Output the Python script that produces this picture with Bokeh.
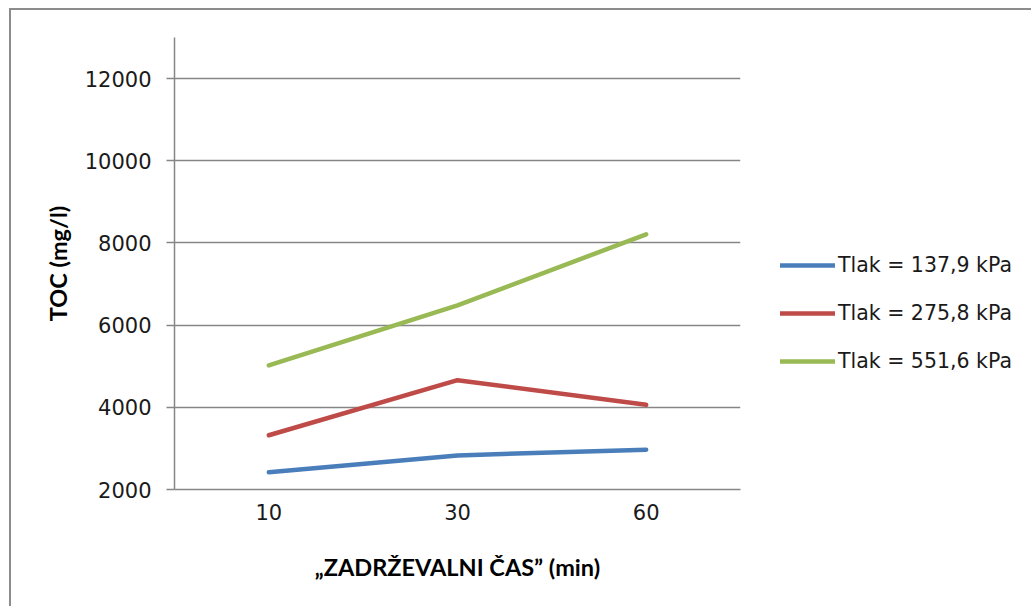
from bokeh.plotting import figure
from bokeh.models import FactorRange, Range1d, FixedTicker, Legend, LegendItem
from bokeh.embed import file_html
from bokeh.resources import INLINE

# Retention time categories (min)
times = ["10", "30", "60"]

# TOC (mg/l) for each pressure level
toc_137_9 = [2420, 2830, 2970]
toc_275_8 = [3320, 4660, 4060]
toc_551_6 = [5020, 6480, 8210]

series_labels = ["Tlak = 137,9 kPa", "Tlak = 275,8 kPa", "Tlak = 551,6 kPa"]
series_colors = ["#4a7ebb", "#be4b48", "#98b954"]

y_ticks = [2000, 4000, 6000, 8000, 10000, 12000]

GRAY = "#868686"
TICK_FONT = "DejaVu Sans"
TITLE_FONT = "Lato"

p = figure(
    x_range=FactorRange(*times, range_padding=0),
    y_range=Range1d(2000, 13000),
    frame_width=566, frame_height=452,
    output_backend="svg", toolbar_location=None,
    min_border_left=163, min_border_right=0,
    min_border_top=27, min_border_bottom=117,
)
p.styles = {
    "margin-left": "9px", "margin-top": "8px",
    "border-left": "2px solid #8c8c8c", "border-top": "2px solid #8c8c8c",
}
p.outline_line_color = None
p.background_fill_color = "white"
p.border_fill_color = "white"

items = []
for vals, label, color in zip([toc_137_9, toc_275_8, toc_551_6], series_labels, series_colors):
    r = p.line(times, vals, line_color=color, line_width=4.5, line_cap="round", line_join="round")
    items.append(LegendItem(label=label, renderers=[r]))

# y axis
p.yaxis.ticker = FixedTicker(ticks=y_ticks)
p.yaxis.axis_line_color = GRAY
p.yaxis.axis_line_width = 1.5
p.yaxis.major_tick_line_color = GRAY
p.yaxis.major_tick_line_width = 1.5
p.yaxis.major_tick_in = 0
p.yaxis.major_tick_out = 8
p.yaxis.minor_tick_line_color = None
p.yaxis.major_label_text_font = TICK_FONT
p.yaxis.major_label_text_font_size = "21px"
p.yaxis.major_label_text_color = "#1a1a1a"
p.yaxis.major_label_standoff = 15
p.yaxis.axis_label = "TOC (mg/l)"
p.yaxis.axis_label_text_font = TITLE_FONT
p.yaxis.axis_label_text_font_style = "bold"
p.yaxis.axis_label_text_font_size = "23.5px"
p.yaxis.axis_label_text_color = "#000000"
p.yaxis.axis_label_standoff = 10

# x axis
p.xaxis.axis_line_color = GRAY
p.xaxis.axis_line_width = 1.5
p.xaxis.major_tick_line_color = None
p.xaxis.minor_tick_line_color = None
p.xaxis.major_label_text_font = TICK_FONT
p.xaxis.major_label_text_font_size = "21px"
p.xaxis.major_label_text_color = "#1a1a1a"
p.xaxis.major_label_standoff = 8
p.xaxis.axis_label = "\u201eZADR\u017dEVALNI \u010cAS\u201d (min)"
p.xaxis.axis_label_text_font = TITLE_FONT
p.xaxis.axis_label_text_font_style = "bold"
p.xaxis.axis_label_text_font_size = "23.5px"
p.xaxis.axis_label_text_color = "#000000"
p.xaxis.axis_label_standoff = 30

# grid
p.xgrid.grid_line_color = None
p.ygrid.grid_line_color = GRAY
p.ygrid.grid_line_width = 1.5

# legend in the right-hand side panel
legend = Legend(
    items=items, location=(40, 116), orientation="vertical",
    glyph_width=55, glyph_height=20, label_height=20, spacing=24,
    label_standoff=3, padding=0, margin=0,
    label_text_font=TICK_FONT, label_text_font_size="20.5px", label_text_color="#1a1a1a",
    border_line_alpha=0, background_fill_alpha=0,
)
p.add_layout(legend, "right")

open("out.html", "w").write(file_html(p, INLINE))
